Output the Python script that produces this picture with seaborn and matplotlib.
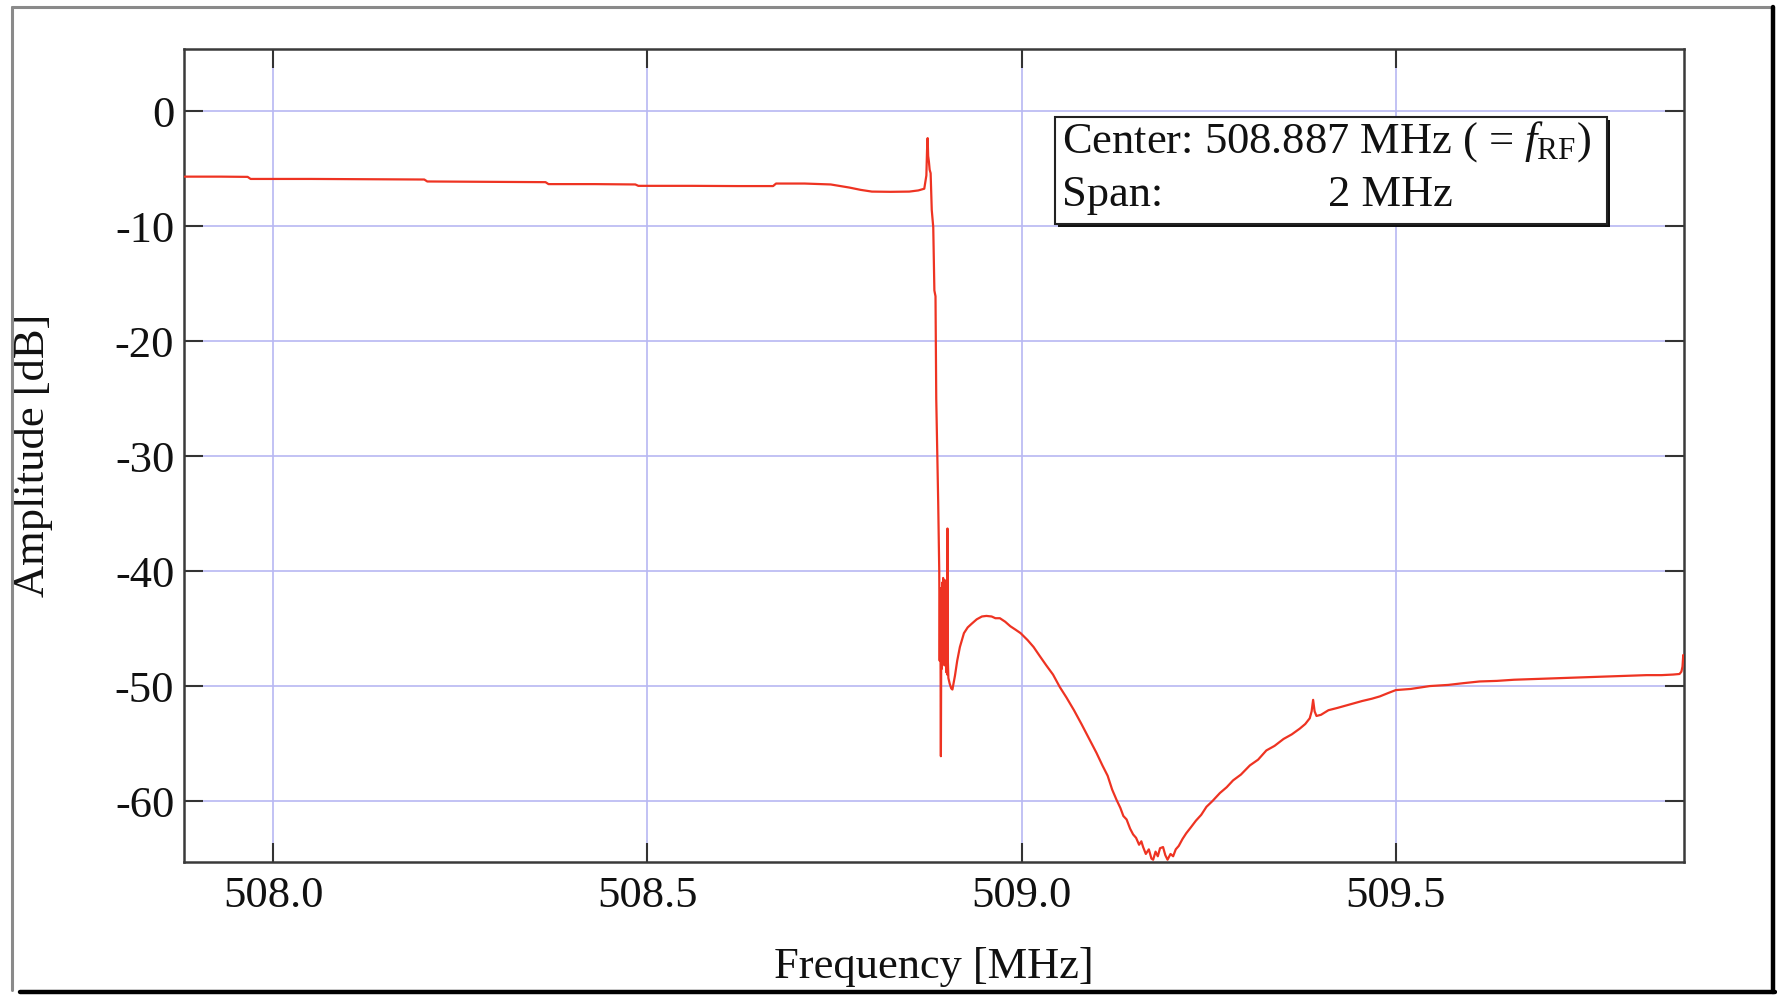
import matplotlib
matplotlib.use("Agg")
import matplotlib.pyplot as plt
import seaborn as sns
import pandas as pd
from matplotlib.patches import Rectangle
from matplotlib.lines import Line2D
from matplotlib.ticker import FixedLocator, FormatStrFormatter

# ---------------- data ----------------
freq_mhz = [
    507.882, 507.930, 507.966, 507.970, 508.050, 508.120, 508.202, 508.206,
    508.280, 508.364, 508.368, 508.430, 508.484, 508.488, 508.560, 508.620,
    508.668, 508.672, 508.710, 508.745, 508.770, 508.785, 508.800, 508.825,
    508.850, 508.862, 508.870, 508.8728, 508.8737, 508.8745, 508.8752,
    508.8762, 508.8772, 508.8785, 508.8800, 508.8820, 508.8835, 508.8850,
    508.8860, 508.8875, 508.8886, 508.8900, 508.8906, 508.8912, 508.8918,
    508.8922, 508.8928, 508.8934, 508.8940, 508.8946, 508.8952, 508.8958,
    508.8964, 508.8970, 508.8976, 508.8982, 508.8988, 508.8994, 508.9000,
    508.9006, 508.9010, 508.9015, 508.9022, 508.9040, 508.9060, 508.9076,
    508.9110, 508.9140, 508.9176, 508.9230, 508.9280, 508.9330, 508.9400,
    508.9470, 508.9530, 508.9600, 508.9650, 508.9710, 508.9780, 508.9850,
    508.9920, 508.9987, 509.0080, 509.0160, 509.0244, 509.0330, 509.0420,
    509.0512, 509.0600, 509.0700, 509.0800, 509.0912, 509.1000, 509.1080,
    509.1150, 509.1210, 509.1269, 509.1320, 509.1360, 509.1403, 509.1450,
    509.1490, 509.1530, 509.1570, 509.1600, 509.1624, 509.1660, 509.1700,
    509.1735, 509.1758, 509.1790, 509.1820, 509.1850, 509.1890, 509.1920,
    509.1950, 509.1990, 509.2025, 509.2060, 509.2100, 509.2150, 509.2200,
    509.2260, 509.2330, 509.2400, 509.2470, 509.2550, 509.2650, 509.2740,
    509.2826, 509.2930, 509.3050, 509.3160, 509.3270, 509.3380, 509.3500,
    509.3610, 509.3717, 509.3790, 509.3850, 509.3875, 509.3895, 509.3915,
    509.3940, 509.4000, 509.4100, 509.4220, 509.4385, 509.4550, 509.4680,
    509.4786, 509.4900, 509.5000, 509.5200, 509.5454, 509.5700, 509.5900,
    509.6120, 509.6350, 509.6580, 509.6790, 509.7000, 509.7230, 509.7457,
    509.7680, 509.7900, 509.8125, 509.8350, 509.8550, 509.8703, 509.8790,
    509.8815, 509.8830, 509.8840, 509.8850,
]
amp_db = [
    -5.70, -5.70, -5.72, -5.90, -5.90, -5.92, -5.95, -6.12,
    -6.15, -6.18, -6.35, -6.35, -6.38, -6.50, -6.50, -6.52,
    -6.52, -6.30, -6.30, -6.38, -6.65, -6.85, -7.00, -7.02,
    -7.00, -6.90, -6.75, -5.60, -3.40, -2.35, -3.90,
    -4.40, -5.10, -5.40, -8.60, -10.10, -15.60, -16.10,
    -25.00, -30.00, -34.00, -40.00, -47.80, -41.50, -48.60,
    -56.10, -43.80, -48.50, -41.00, -47.20, -40.60, -46.50,
    -42.00, -48.20, -40.80, -47.60, -43.20, -48.80, -42.60,
    -49.00, -36.30, -47.80, -49.30, -49.80, -50.20, -50.30,
    -49.10, -47.80, -46.60, -45.40, -44.90, -44.60, -44.20,
    -43.95, -43.90, -43.95, -44.10, -44.10, -44.40, -44.80,
    -45.10, -45.40, -46.00, -46.60, -47.40, -48.20, -49.00,
    -50.10, -51.00, -52.10, -53.30, -54.70, -55.80, -56.90,
    -57.80, -59.00, -59.90, -60.60, -61.30, -61.60, -62.40,
    -62.90, -63.20, -63.80, -63.50, -64.00, -64.60, -64.20,
    -65.00, -65.10, -64.40, -64.80, -64.10, -64.00, -64.70,
    -65.10, -64.60, -64.80, -64.20, -63.90, -63.30, -62.80,
    -62.30, -61.70, -61.20, -60.50, -60.00, -59.30, -58.80,
    -58.20, -57.70, -56.90, -56.40, -55.60, -55.20, -54.60,
    -54.20, -53.70, -53.30, -52.80, -52.20, -51.20, -52.20,
    -52.60, -52.50, -52.10, -51.90, -51.60, -51.30, -51.10,
    -50.90, -50.60, -50.35, -50.25, -50.00, -49.90, -49.75,
    -49.60, -49.55, -49.45, -49.40, -49.35, -49.30, -49.25,
    -49.20, -49.15, -49.10, -49.05, -49.05, -49.00, -48.95,
    -48.75, -48.30, -47.30, -47.50,
]

x_ticks = [508.0, 508.5, 509.0, 509.5]
y_ticks = [0, -10, -20, -30, -40, -50, -60]
x_label = "Frequency [MHz]"
y_label = "Amplitude [dB]"
box_line1 = "Center: 508.887 MHz ( = $f_{\\mathrm{RF}}$)"
box_line2_left = "Span:"
box_line2_right = "2 MHz"

# ---------------- style ----------------
sns.set_theme(style="white")
plt.rcParams["font.family"] = ["Liberation Serif", "DejaVu Serif"]
plt.rcParams["mathtext.fontset"] = "custom"
plt.rcParams["mathtext.rm"] = "Liberation Serif"
plt.rcParams["mathtext.it"] = "Liberation Serif:italic"
plt.rcParams["axes.unicode_minus"] = False

W, H = 1777, 996
fig = plt.figure(figsize=(W / 100, H / 100), dpi=100)
fig.patch.set_facecolor("white")


def fx(px):
    return px / W


def fy(py):
    return 1 - py / H


ax = fig.add_axes([fx(184), fy(862), fx(1684) - fx(184), fy(49) - fy(862)])
ax.set_facecolor("white")

df = pd.DataFrame({"freq": freq_mhz, "amp": amp_db})
sns.lineplot(data=df, x="freq", y="amp", ax=ax, color="#ee3322", lw=1.6,
             sort=False, estimator=None, zorder=3)

ax.set_xlim(507.881, 509.885)
ax.set_ylim(-65.3, 5.4)
ax.xaxis.set_major_locator(FixedLocator(x_ticks))
ax.yaxis.set_major_locator(FixedLocator(y_ticks))
ax.xaxis.set_major_formatter(FormatStrFormatter("%.1f"))
ax.yaxis.set_major_formatter(FormatStrFormatter("%d"))

ax.grid(True, color="#b8b8f2", lw=1.2, zorder=0)
ax.set_axisbelow(True)
for s in ax.spines.values():
    s.set_color("#3a3a3a")
    s.set_linewidth(1.8)

ax.tick_params(axis="both", which="major", direction="in", length=14, width=1.5,
               color="#333333", labelsize=32, labelcolor="#111111",
               top=True, right=True, bottom=True, left=True)
ax.tick_params(axis="x", pad=10)
ax.tick_params(axis="y", pad=7)

ax.set_xlabel(x_label, fontsize=32, color="#111111")
ax.set_ylabel(y_label, fontsize=32, color="#111111")
ax.xaxis.set_label_coords(0.5, -0.105)
ax.yaxis.set_label_coords(-0.087, 0.5)

# ---------------- annotation box ----------------
bx0, by0, bx1, by1 = 1055, 117, 1607, 224
fig.add_artist(Rectangle((fx(bx0 + 3), fy(by1 + 3)), fx(bx1) - fx(bx0), fy(by0) - fy(by1),
                         transform=fig.transFigure, facecolor="#111111",
                         edgecolor="none", zorder=5))
fig.add_artist(Rectangle((fx(bx0), fy(by1)), fx(bx1) - fx(bx0), fy(by0) - fy(by1),
                         transform=fig.transFigure, facecolor="white",
                         edgecolor="#222222", lw=1.5, zorder=6))
fig.text(fx(1062), fy(142), box_line1, fontsize=32, va="center", ha="left",
         color="#111111", zorder=7)
fig.text(fx(1062), fy(195), box_line2_left, fontsize=32, va="center", ha="left",
         color="#111111", zorder=7)
fig.text(fx(1328), fy(195), box_line2_right, fontsize=32, va="center", ha="left",
         color="#111111", zorder=7)

# ---------------- outer frame ----------------
fig.add_artist(Line2D([fx(12), fx(12)], [fy(7), fy(990)], color="#8a8a8a", lw=2.2,
                      transform=fig.transFigure))
fig.add_artist(Line2D([fx(12), fx(1772)], [fy(7), fy(7)], color="#8a8a8a", lw=2.2,
                      transform=fig.transFigure))
fig.add_artist(Line2D([fx(1773), fx(1773)], [fy(7), fy(992)], color="#000000", lw=3.2,
                      transform=fig.transFigure))
fig.add_artist(Line2D([fx(20), fx(1775)], [fy(992), fy(992)], color="#000000", lw=3.2,
                      transform=fig.transFigure))

fig.savefig("out.png", dpi=100, facecolor="white")
